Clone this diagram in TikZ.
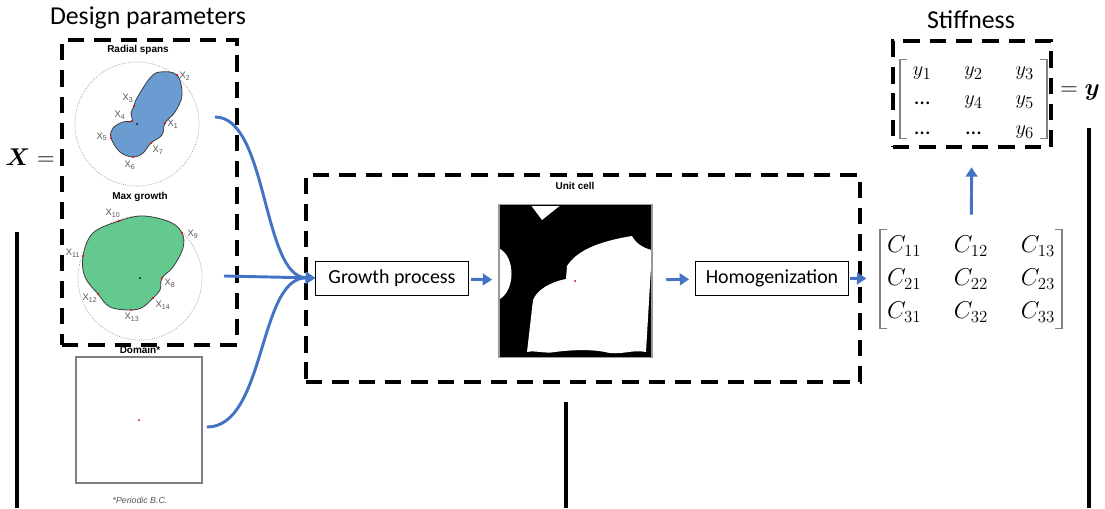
\documentclass[tikz,border=0pt]{standalone}
\usepackage{amsmath}
\usepackage{fontspec}
\setmainfont{Carlito}
\newfontfamily\arial{Liberation Sans}
\usetikzlibrary{positioning,arrows.meta,calc}

\definecolor{flowblue}{HTML}{4472C4}
\definecolor{brkcol}{HTML}{8E7C78}
\definecolor{blobblue}{HTML}{6A9BD1}
\definecolor{blobgreen}{HTML}{63C98E}
\definecolor{lbl}{HTML}{555555}

\begin{document}
\begin{tikzpicture}[x=0.03cm,y=-0.03cm,font=\fontsize{17}{20}\selectfont,
  dbox/.style={draw,line width=3.4pt,dash pattern=on 14pt off 8.5pt},
  proc/.style={draw,line width=0.6pt,minimum width=4.59cm,minimum height=1.02cm,inner sep=2pt},
  flow/.style={draw=flowblue,line width=2.5pt,-{Triangle[length=8pt,width=10pt]}},
  pane/.style={font=\arial\bfseries\fontsize{8.5}{10}\selectfont,inner sep=1pt},
  xlab/.style={text=lbl,font=\arial\fontsize{8}{9}\selectfont,inner sep=0pt},
  ring/.style={draw=gray!80,densely dotted,line width=0.6pt},
  blob/.style={draw=black!75,line width=0.7pt},
  bar/.style={line width=2.8pt},
  brk/.style={draw=brkcol,line width=1pt}]
\useasboundingbox (0,0) rectangle (1105,508);

% design parameters
\node[font=\fontsize{22}{26}\selectfont] (dtitle) at (148,18) {Design parameters};
\node[dbox,minimum width=5.25cm,minimum height=9.15cm] (inbox) at (149.5,192.5) {};

\node[pane] (rtitle) at (138,50) {Radial spans};
\draw[ring] (137,124) circle (62);
\filldraw[blob,fill=blobblue] plot[smooth cycle,tension=0.6] coordinates {
  (160,72) (177,75) (182,95) (175,112) (165,123) (162,135) (151,143) (143,153)
  (133,157) (120,152) (111,138) (113,128) (123,122) (132,121) (131,113)
  (134,106) (137,98) (150,78)};
\fill (137,124) circle (1);
\foreach \px/\py/\k/\dx/\dy in {177/75/2/8/1, 134/106/3/-6/-8, 132/121/4/-12/-6,
    165/123/1/8/1, 111/138/5/-9/-1, 151/143/7/7/7, 133/157/6/-3/8}{
  \fill[red] (\px,\py) circle (1.2);
  \node[xlab] at (\px+\dx,\py+\dy) {X\textsubscript{\k}};
}

\node[pane] (mtitle) at (140,197) {Max growth};
\draw[ring] (140,278) circle (62);
\filldraw[blob,fill=blobgreen] plot[smooth cycle,tension=0.6] coordinates {
  (119,221) (143,216) (170,222) (182,233) (183,248) (173,267) (162,278)
  (160,290) (153,298) (143,307) (131,310) (110,307) (98,294) (85,277)
  (83,256) (93,233)};
\fill (140,278) circle (1);
\foreach \px/\py/\k/\dx/\dy in {119/221/10/-6/-8, 182/233/9/11/1, 83/256/11/-10/-3,
    162/278/8/8/5, 98/294/12/-8/4, 153/298/14/10/7, 131/310/13/1/7}{
  \fill[red] (\px,\py) circle (1.2);
  \node[xlab] at (\px+\dx,\py+\dy) {X\textsubscript{\k}};
}

% domain
\node[pane] (dlabel) at (140,350) {Domain*};
\node[draw=gray,line width=1.2pt,minimum size=3.78cm,inner sep=0pt] (dom) at (139,420) {};
\fill[red!70!black] (dom.center) circle (1);
\node[xlab,font=\arial\itshape\fontsize{7.5}{8}\selectfont] (pbc) at (140,500) {*Periodic B.C.};

% unit cell pipeline
\node[dbox,minimum width=16.62cm,minimum height=6.21cm] (core) at (583,278.5) {};
\node[proc] (growth) at (392,278) {Growth process};
\node[pane] (utitle) at (575,186) {Unit cell};
\node[fill=black,minimum size=4.59cm,inner sep=0pt] (ucell) at (575.5,281) {};
\begin{scope}
  \clip (500,206) rectangle (651,356);
  \fill[white] (530,204) -- (542,220) -- (562,204) -- cycle;
  \fill[white] (498,248) .. controls (516,255) and (516,292) .. (498,300) -- cycle;
  \fill[white] (527,352) -- (533,300) .. controls (537,290) and (550,282) .. (566,279)
    -- (567,266) .. controls (576,252) and (595,242) .. (632,236)
    .. controls (635,242) and (642,248) .. (652,250) -- (646,352)
    .. controls (632,349) and (620,356) .. (605,352) .. controls (590,349) and (570,350) .. (555,352)
    .. controls (545,354) and (535,350) .. (527,352) -- cycle;
\end{scope}
\node[draw=gray!80,line width=1.5pt,minimum size=4.59cm,inner sep=0pt] at (ucell) {};
\fill[red!70!black] (575,281) circle (1);
\node[proc] (homog) at (772,278) {Homogenization};

% stiffness tensor
\node[inner sep=0pt,font=\fontsize{20}{28}\selectfont] (cmat) at (971,279)
  {\setlength{\arraycolsep}{14pt}$\begin{array}{ccc}
    C_{11} & C_{12} & C_{13}\\ C_{21} & C_{22} & C_{23}\\ C_{31} & C_{32} & C_{33}
  \end{array}$};
\draw[brk] ([shift={(-84,-49.5)}]cmat.center) -- ++(-7,0) -- ++(0,99) -- ++(7,0);
\draw[brk] ([shift={(84,-49.5)}]cmat.center) -- ++(7,0) -- ++(0,99) -- ++(-7,0);

\node[font=\fontsize{22}{26}\selectfont] (stitle) at (971,20) {Stiffness};
\node[dbox,minimum width=4.74cm,minimum height=3.18cm] (ybox) at (972,94) {};
\node[inner sep=0pt,font=\fontsize{19}{25}\selectfont] (ymat) at (973.5,99)
  {\setlength{\arraycolsep}{14pt}$\begin{array}{ccc}
    y_1 & y_2 & y_3\\ \text{…} & y_4 & y_5\\ \text{…} & \text{…} & y_6
  \end{array}$};
\draw[brk] ([shift={(-66.5,-39.5)}]ymat.center) -- ++(-7,0) -- ++(0,79) -- ++(7,0);
\draw[brk] ([shift={(66.5,-39.5)}]ymat.center) -- ++(7,0) -- ++(0,79) -- ++(-7,0);

\node[font=\fontsize{20}{24}\selectfont] (xeq) at (30,157) {$\boldsymbol{X} =$};
\node[font=\fontsize{20}{24}\selectfont] (yeq) at (1080,92) {$= \boldsymbol{y}$};

% arrows
\coordinate (rs) at (215,117);
\coordinate (mg) at (224,276);
\coordinate (dm) at (207,427);
\draw[flow] (rs) .. controls (268,117) and (262,277) .. (growth.west);
\draw[flow] (mg) -- (growth.west);
\draw[flow] (dm) .. controls (266,427) and (258,277) .. (growth.west);
\draw[flow,shorten <=2pt,shorten >=0.2cm] (growth) -- (ucell);
\draw[flow,shorten <=0.42cm,shorten >=0.18cm] (ucell) -- (homog);
\draw[flow,shorten <=1pt,shorten >=0.12cm] (homog) -- (cmat);
\draw[flow,shorten <=0.45cm,shorten >=0.55cm] (cmat) -- (ybox);

% separators
\coordinate (la) at (17,232);  \coordinate (lb) at (17,508);
\coordinate (ma) at (566,402); \coordinate (mb) at (566,508);
\coordinate (ra) at (1089,128); \coordinate (rb) at (1089,508);
\draw[bar] (la) -- (lb);
\draw[bar] (ma) -- (mb);
\draw[bar] (ra) -- (rb);
\end{tikzpicture}
\end{document}
